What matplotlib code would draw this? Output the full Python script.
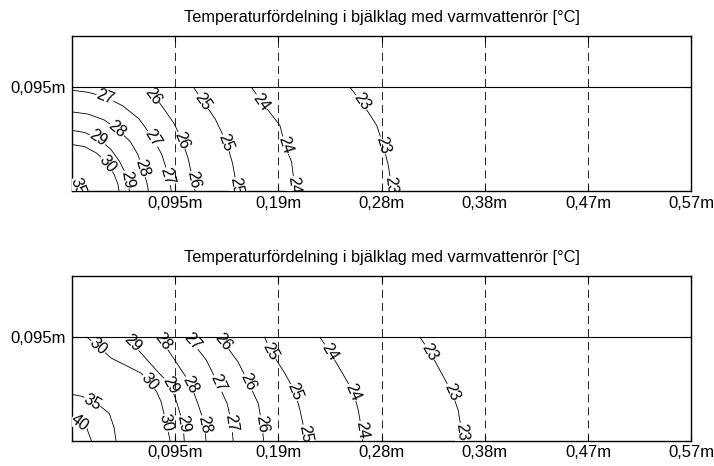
import numpy as np
import matplotlib.pyplot as plt

plt.rcParams['font.family'] = 'Liberation Sans'
plt.rcParams['lines.scale_dashes'] = False

title = "Temperaturfördelning i bjälklag med varmvattenrör [°C]"
x_ticks = [0.095, 0.19, 0.285, 0.38, 0.475, 0.57]
x_ticklabels = ['0,095m', '0,19m', '0,28m', '0,38m', '0,47m', '0,57m']
y_ticks = [0.095]
y_ticklabels = ['0,095m']
slab_top = 0.095

# --- upper panel: isotherms (x, y in metres)
top_levels = [35, 30, 29, 28, 27, 26, 25, 24, 23]
top_x = [
    [0.000, 0.005, 0.0065, 0.0075],
    [0.000, 0.012, 0.023, 0.033, 0.039, 0.0425, 0.0435],
    [0.000, 0.012, 0.0245, 0.036, 0.044, 0.050, 0.0525, 0.053],
    [0.000, 0.015, 0.030, 0.042, 0.054, 0.061, 0.065, 0.069, 0.0705],
    [0.000, 0.015, 0.031, 0.047, 0.062, 0.075, 0.083, 0.088, 0.0905, 0.0915],
    [0.070, 0.0755, 0.085, 0.094, 0.1015, 0.107, 0.111, 0.1134],
    [0.112, 0.121, 0.132, 0.1425, 0.148, 0.151, 0.152],
    [0.1655, 0.1747, 0.1915, 0.1961, 0.2023, 0.2045, 0.2055],
    [0.2559, 0.2667, 0.2805, 0.2866, 0.2912, 0.2935, 0.294],
]
top_y = [
    [0.0085, 0.0065, 0.0035, 0.000],
    [0.0425, 0.0405, 0.0345, 0.025, 0.015, 0.006, 0.000],
    [0.0555, 0.0535, 0.048, 0.038, 0.027, 0.015, 0.008, 0.000],
    [0.0725, 0.0705, 0.065, 0.0565, 0.045, 0.033, 0.0205, 0.008, 0.000],
    [0.0925, 0.0905, 0.0862, 0.078, 0.066, 0.048, 0.033, 0.017, 0.007, 0.000],
    [0.095, 0.088, 0.075, 0.062, 0.0465, 0.030, 0.012, 0.000],
    [0.095, 0.082, 0.066, 0.044, 0.025, 0.008, 0.000],
    [0.095, 0.0816, 0.0601, 0.0417, 0.0264, 0.008, 0.000],
    [0.095, 0.0816, 0.0601, 0.0417, 0.0233, 0.008, 0.000],
]
top_lab_x = [[0.006], [0.033], [0.0245, 0.0515], [0.042, 0.065],
             [0.031, 0.075, 0.088], [0.0745, 0.1015, 0.112],
             [0.121, 0.142, 0.1515], [0.1747, 0.1961, 0.2045],
             [0.2667, 0.2866, 0.2935]]
top_lab_y = [[0.004], [0.025], [0.048, 0.0105], [0.0565, 0.0205],
             [0.0865, 0.048, 0.013], [0.087, 0.0465, 0.0098],
             [0.082, 0.044, 0.004], [0.0816, 0.0417, 0.005],
             [0.0816, 0.0417, 0.005]]

# --- lower panel
bot_levels = [40, 35, 30, 29, 28, 27, 26, 25, 24, 23]
bot_x = [
    [0.000, 0.008, 0.014, 0.018],
    [0.000, 0.010, 0.019, 0.027, 0.0346, 0.039, 0.0407],
    [0.014, 0.0245, 0.036, 0.050, 0.0637, 0.0714, 0.078, 0.0821, 0.087, 0.0905],
    [0.049, 0.056, 0.0683, 0.0806, 0.091, 0.097, 0.1025, 0.1035],
    [0.079, 0.0837, 0.0959, 0.1095, 0.116, 0.1223, 0.1235],
    [0.105, 0.1108, 0.1238, 0.1345, 0.143, 0.147, 0.1485],
    [0.1345, 0.1395, 0.153, 0.1624, 0.1716, 0.175, 0.1765],
    [0.1775, 0.1832, 0.1962, 0.2054, 0.210, 0.2146, 0.2152],
    [0.2283, 0.2375, 0.2483, 0.259, 0.2636, 0.2667, 0.2675],
    [0.3203, 0.3295, 0.3403, 0.3495, 0.3555, 0.3587, 0.359],
]
bot_y = [
    [0.0215, 0.018, 0.011, 0.000],
    [0.0425, 0.0405, 0.0355, 0.031, 0.0248, 0.012, 0.000],
    [0.095, 0.0865, 0.076, 0.069, 0.062, 0.054, 0.045, 0.036, 0.016, 0.000],
    [0.095, 0.0892, 0.0754, 0.0616, 0.051, 0.034, 0.015, 0.000],
    [0.095, 0.0907, 0.0723, 0.0517, 0.034, 0.015, 0.000],
    [0.095, 0.0907, 0.074, 0.0525, 0.034, 0.016, 0.000],
    [0.095, 0.0907, 0.0723, 0.0535, 0.034, 0.015, 0.000],
    [0.095, 0.082, 0.0616, 0.0447, 0.0279, 0.0064, 0.000],
    [0.095, 0.0815, 0.0631, 0.0447, 0.0279, 0.0095, 0.000],
    [0.095, 0.0815, 0.0616, 0.0447, 0.0279, 0.008, 0.000],
]
bot_lab_x = [[0.0075], [0.019], [0.0245, 0.0714, 0.087], [0.056, 0.091, 0.1025],
             [0.0837, 0.1095, 0.1223], [0.1108, 0.1345, 0.147],
             [0.1395, 0.1624, 0.175], [0.1832, 0.2054, 0.2146],
             [0.2375, 0.259, 0.2667], [0.3295, 0.3495, 0.3587]]
bot_lab_y = [[0.0165], [0.0355], [0.0865, 0.054, 0.016], [0.0892, 0.051, 0.015],
             [0.0907, 0.0517, 0.015], [0.0907, 0.0525, 0.016],
             [0.0907, 0.0535, 0.015], [0.082, 0.0447, 0.0064],
             [0.0815, 0.0447, 0.0095], [0.0815, 0.0447, 0.008]]


def label_angle(ax, cx, cy, lx, ly):
    pts = ax.transData.transform(np.column_stack([cx, cy]))
    p = ax.transData.transform((lx, ly))
    i = np.argmin(np.hypot(pts[:, 0] - p[0], pts[:, 1] - p[1]))
    i0, i1 = max(i - 1, 0), min(i + 1, len(pts) - 1)
    dx, dy = pts[i1] - pts[i0]
    ang = np.degrees(np.arctan2(dy, dx))
    if ang > 90:
        ang -= 180
    if ang < -90:
        ang += 180
    return ang


def draw_panel(ax, ytop, levels, xs, ys, lxs, lys):
    ax.set_xlim(0, 0.57)
    ax.set_ylim(0, ytop)
    for lev, cx, cy, lx, ly in zip(levels, xs, ys, lxs, lys):
        ax.plot(cx, cy, color='k', lw=0.6, zorder=2)
        for px, py in zip(lx, ly):
            ang = label_angle(ax, cx, cy, px, py)
            ax.text(px, py, str(lev), rotation=ang, rotation_mode='anchor',
                    ha='center', va='center', fontsize=11.5, clip_on=True,
                    bbox=dict(fc='white', ec='none', pad=0.2), zorder=3)
    for xt in x_ticks[:-1]:
        ax.axvline(xt, color='k', lw=0.6, ls=(0, (5.8, 3.6)), zorder=4)
    ax.axhline(slab_top, color='k', lw=0.8, zorder=4)
    ax.set_xticks(x_ticks)
    ax.set_xticklabels(x_ticklabels)
    ax.set_yticks(y_ticks)
    ax.set_yticklabels(y_ticklabels)
    ax.tick_params(direction='in', length=4, top=True, right=True,
                   labelsize=12, width=0.8)
    ax.tick_params(axis='x', pad=3.5)
    ax.tick_params(axis='y', pad=4)
    for s in ax.spines.values():
        s.set_linewidth(1.0)
    ax.set_title(title, fontsize=11.7, pad=10)


fig = plt.figure(figsize=(7.14, 4.66), dpi=100)
ax1 = fig.add_axes([0.1004, 0.5908, 0.868, 0.332])
ax2 = fig.add_axes([0.1004, 0.0547, 0.868, 0.3536])
draw_panel(ax1, 0.1423, top_levels, top_x, top_y, top_lab_x, top_lab_y)
draw_panel(ax2, 0.1516, bot_levels, bot_x, bot_y, bot_lab_x, bot_lab_y)

plt.savefig("out.png", dpi=100)
